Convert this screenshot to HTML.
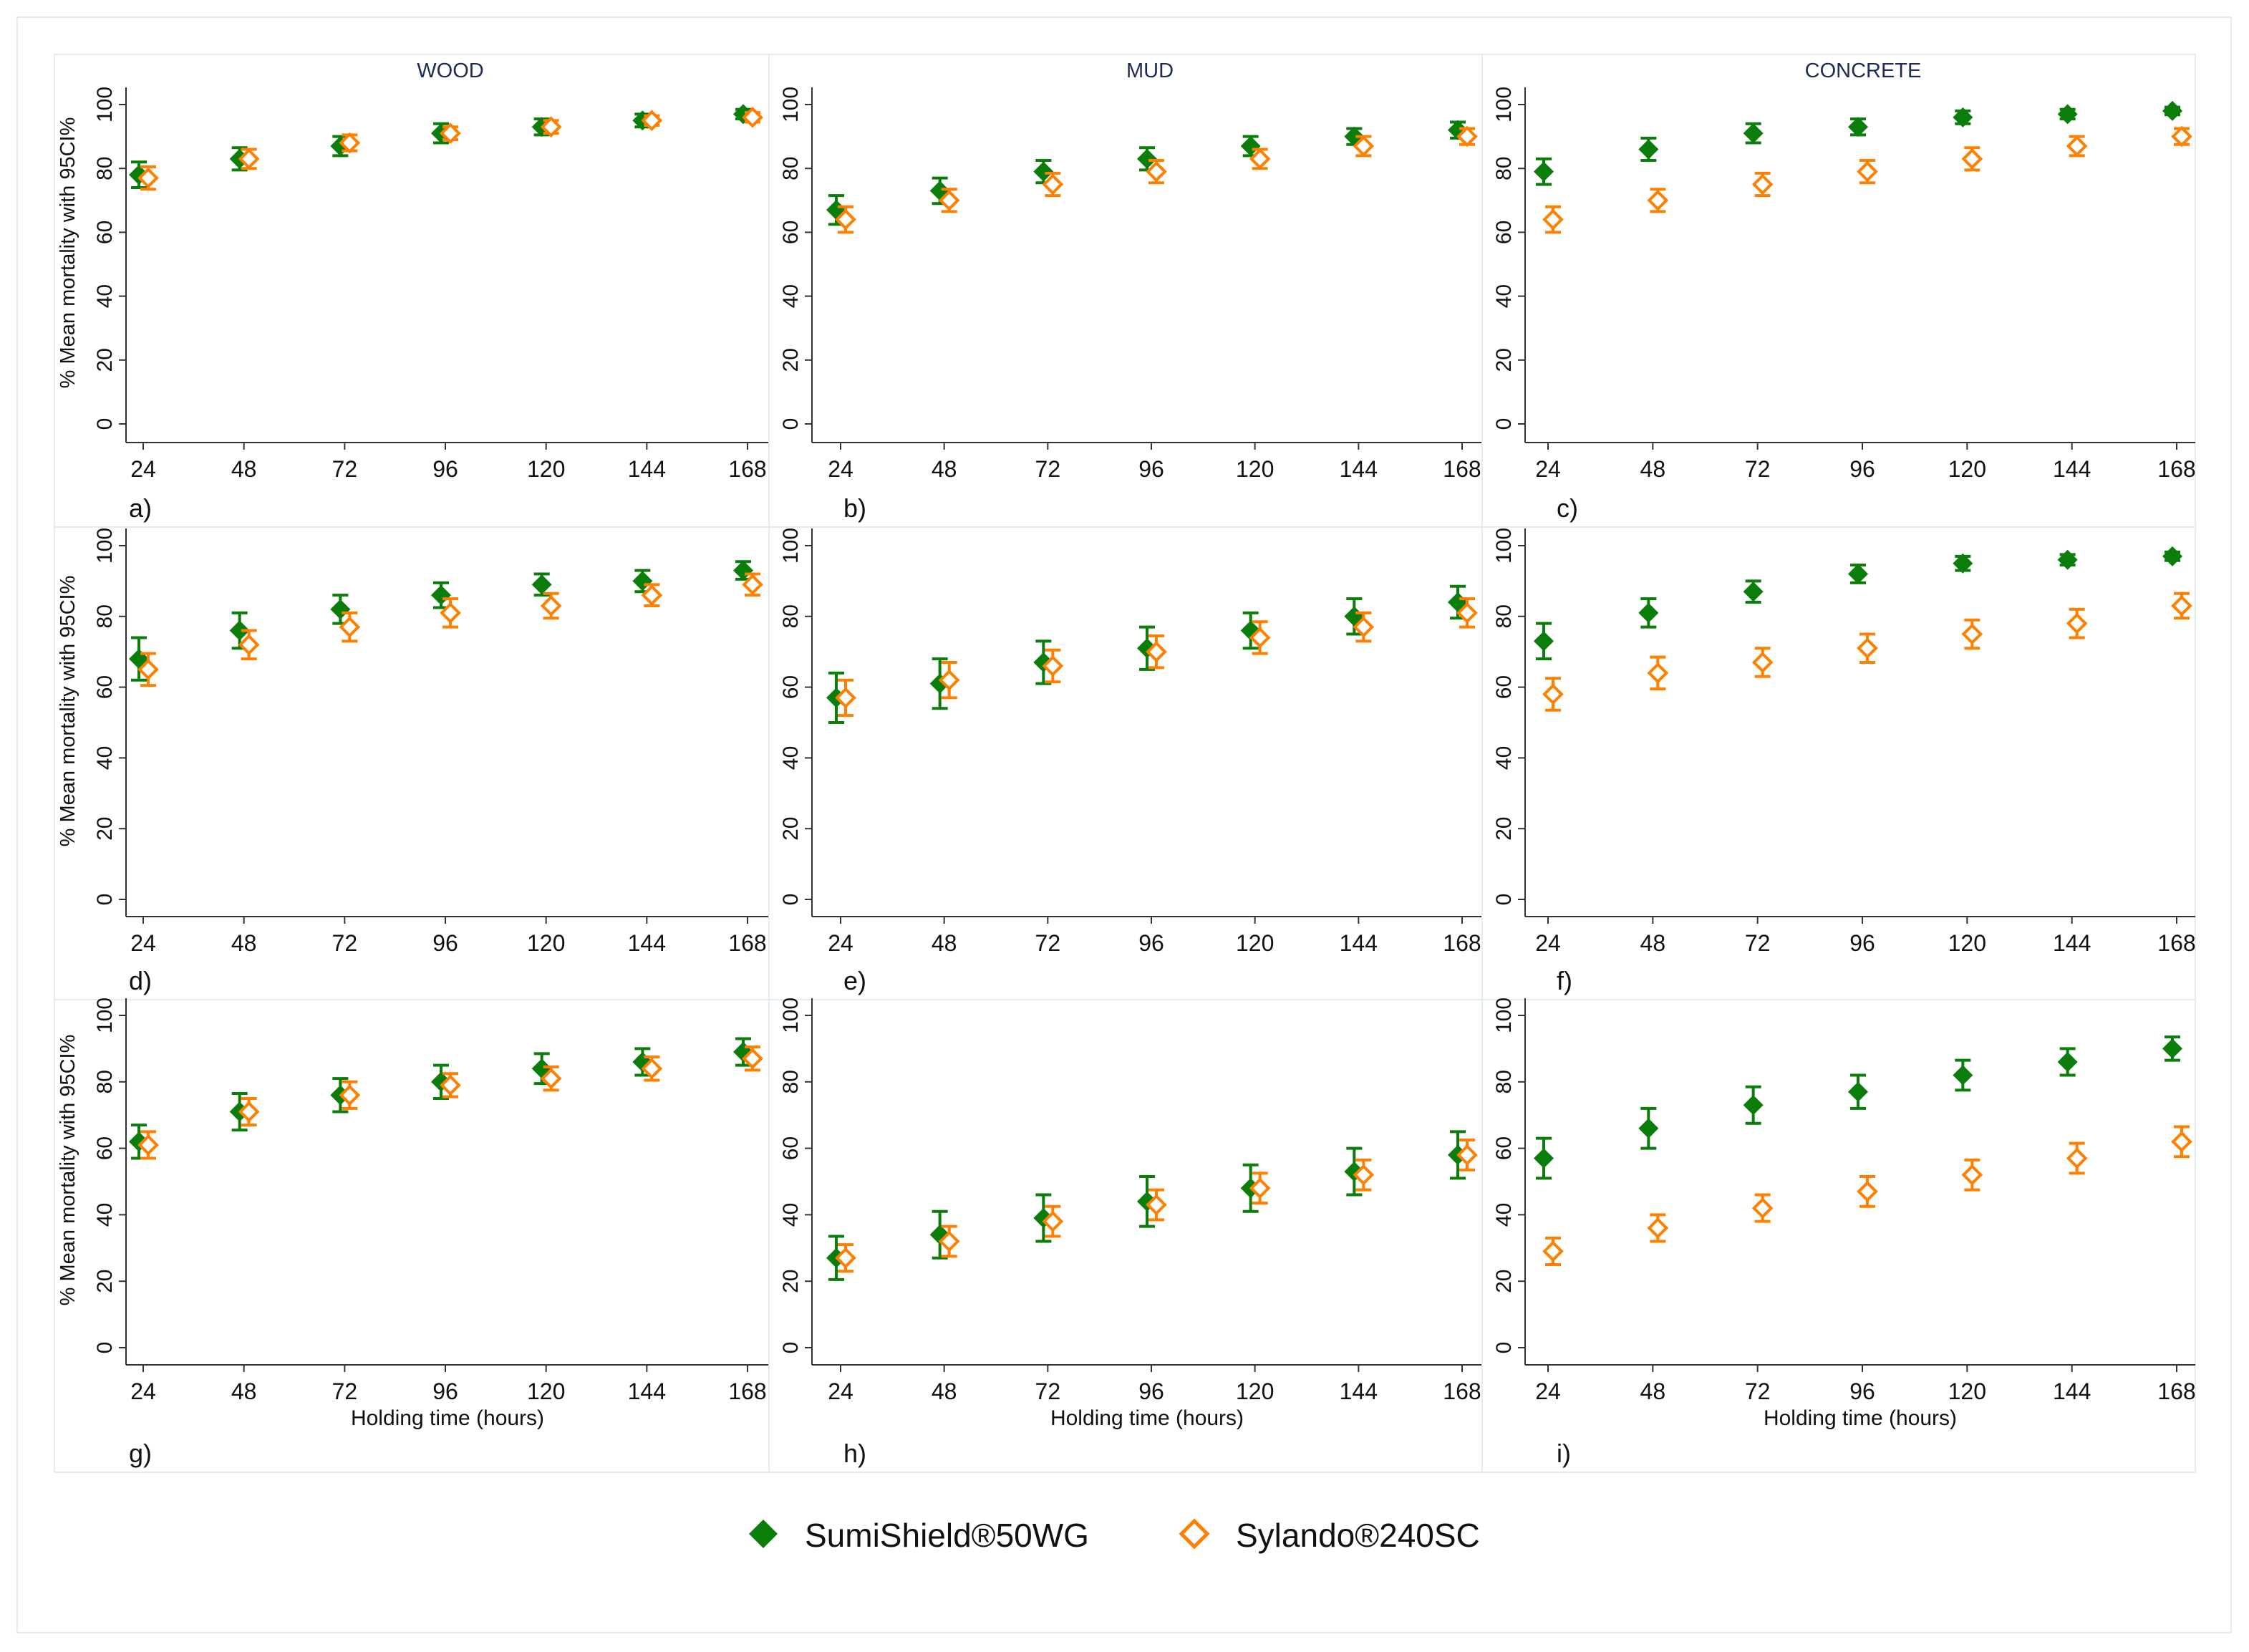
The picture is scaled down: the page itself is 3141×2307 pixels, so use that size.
<!DOCTYPE html>
<html><head><meta charset="utf-8"><style>
html,body{margin:0;padding:0;background:#fff;}
svg{display:block;font-family:"Liberation Sans",Arial,sans-serif;}
</style></head><body>
<svg id="chart" width="3141" height="2307" viewBox="0 0 1570.5 1153.5" xmlns="http://www.w3.org/2000/svg">
<rect x="12" y="12" width="1546" height="1128" fill="#fff" stroke="#e6ecee" stroke-width="1"/>
<g id="panels"></g>
<g>
<polygon points="533,1061 543,1071 533,1081 523,1071" fill="#0a7d0a"/>
<text x="562" y="1080" font-size="23" fill="#111">SumiShield®50WG</text>
<polygon points="834,1062 843,1071 834,1080 825,1071" fill="none" stroke="#ff8000" stroke-width="2.5"/>
<text x="863" y="1080" font-size="23" fill="#111">Sylando®240SC</text>
</g>
</svg>
<script>
const hours=[24,48,72,96,120,144,168];
const yTicks=[0,20,40,60,80,100];
const panelLetters=["a)","b)","c)","d)","e)","f)","g)","h)","i)"];
const colTitles=["WOOD","MUD","CONCRETE"];
// SumiShield means and CI half-widths per panel
const greenMean=[
[78,83,87,91,93,95,97],[67,73,79,83,87,90,92],[79,86,91,93,96,97,98],
[68,76,82,86,89,90,93],[57,61,67,71,76,80,84],[73,81,87,92,95,96,97],
[62,71,76,80,84,86,89],[27,34,39,44,48,53,58],[57,66,73,77,82,86,90]];
const greenCI=[
[4,3.5,3,3,2.5,2,1.5],[4.5,4,3.5,3.5,3,2.5,2.5],[4,3.5,3,2.5,2,1.5,1.2],
[6,5,4,3.5,3,3,2.5],[7,7,6,6,5,5,4.5],[5,4,3,2.5,2,1.5,1.2],
[5,5.5,5,5,4.5,4,4],[6.5,7,7,7.5,7,7,7],[6,6,5.5,5,4.5,4,3.5]];
const orangeMean=[
[77,83,88,91,93,95,96],[64,70,75,79,83,87,90],[64,70,75,79,83,87,90],
[65,72,77,81,83,86,89],[57,62,66,70,74,77,81],[58,64,67,71,75,78,83],
[61,71,76,79,81,84,87],[27,32,38,43,48,52,58],[29,36,42,47,52,57,62]];
const orangeCI=[
[3.5,3,2.5,2,2,1.5,1.5],[4,3.5,3.5,3.5,3,3,2.5],[4,3.5,3.5,3.5,3.5,3,2.5],
[4.5,4,4,4,3.5,3,3],[5,5,4.5,4.5,4.5,4,4],[4.5,4.5,4,4,4,4,3.5],
[4,4,4,3.5,3.5,3.5,3.5],[4,4.5,4.5,4.5,4.5,4.5,4.5],[4,4,4,4.5,4.5,4.5,4.5]];

const NS="http://www.w3.org/2000/svg";
const G=document.getElementById('panels');
const colX=[38,537,1035,1533];
const rowY=[38,368,698,1028];
const axisX=[88,567,1065];
const x24=[100,587,1081], x168=[522,1021,1520];
const y100=[73,381,709], y0=[296,628,941];
const axisYline=[309,640,953];
const green="#0a7d0a", orange="#ff8000";
function mk(tag,attrs,parent){const e=document.createElementNS(NS,tag);for(const k in attrs)e.setAttribute(k,attrs[k]);parent.appendChild(e);return e;}

for(let r=0;r<3;r++)for(let c=0;c<3;c++){
  const p=r*3+c;
  const g=mk('g',{},G);
  
  
  const fr=mk('rect',{x:colX[c],y:rowY[r],width:colX[c+1]-colX[c],height:rowY[r+1]-rowY[r],fill:'none',stroke:'#e3ecee','stroke-width':1},g);
  
  
  const xs=v=>x24[c]+(v-24)/(168-24)*(x168[c]-x24[c]);
  const ys=v=>y0[r]+(v/100)*(y100[r]-y0[r]);
  const ay=axisYline[r];
  const yl=mk('line',{x1:axisX[c],x2:axisX[c],y1:y100[r]-12,y2:ay,stroke:'#333','stroke-width':1},g);
  
  
  const xl=mk('line',{x1:axisX[c],x2:colX[c+1],y1:ay,y2:ay,stroke:'#333','stroke-width':1},g);
  
  
  yTicks.forEach(t=>{
    const y=ys(t);
    mk('line',{x1:axisX[c]-5,x2:axisX[c],y1:y,y2:y,stroke:'#333','stroke-width':1},g);
    const tx=mk('text',{x:0,y:0,'font-size':15,fill:'#111','text-anchor':'middle',transform:`translate(${axisX[c]-10},${y}) rotate(-90)`},g);
    tx.textContent=t;
    
    
  });
  hours.forEach(h=>{
    const x=xs(h);
    mk('line',{x1:x,x2:x,y1:ay,y2:ay+5,stroke:'#333','stroke-width':1},g);
    const tx=mk('text',{x:x,y:ay+24,'font-size':16,fill:'#111','text-anchor':'middle'},g);
    tx.textContent=h;
    
    
  });
  if(c===0){
    const yt=mk('text',{x:0,y:0,'font-size':14.5,fill:'#111','text-anchor':'middle',transform:`translate(52,${(y0[r]+y100[r])/2-8}) rotate(-90)`},g);
    yt.textContent='% Mean mortality with 95CI%';
    
    
  }
  if(r===0){
    const tt=mk('text',{x:(axisX[c]+colX[c+1])/2+2,y:54,'font-size':14.5,fill:'#1e2b55','text-anchor':'middle'},g);
    tt.textContent=colTitles[c];
    
    
  }
  if(r===2){
    const xt=mk('text',{x:(axisX[c]+colX[c+1])/2,y:ay+42,'font-size':15,fill:'#111','text-anchor':'middle'},g);
    xt.textContent='Holding time (hours)';
    
    
  }
  const lt=mk('text',{x:colX[c]+52,y:rowY[r+1]-7,'font-size':18,fill:'#111'},g);
  lt.textContent=panelLetters[p];
  
  
  const series=[[greenMean[p],greenCI[p],green,-3,true],[orangeMean[p],orangeCI[p],orange,3.5,false]];
  series.forEach(([m,ci,col,off,filled])=>{
    hours.forEach((h,i)=>{
      const x=xs(h)+off, y=ys(m[i]), yt=ys(m[i]+ci[i]), yb=ys(m[i]-ci[i]);
      const eb=mk('path',{d:`M${x},${yt}V${yb}M${x-5.5},${yt}H${x+5.5}M${x-5.5},${yb}H${x+5.5}`,stroke:col,'stroke-width':2,fill:'none'},g);
      
      
      const pt=filled?mk('polygon',{points:`${x},${y-7} ${x+7},${y} ${x},${y+7} ${x-7},${y}`,fill:col},g)
                     :mk('polygon',{points:`${x},${y-6} ${x+6},${y} ${x},${y+6} ${x-6},${y}`,fill:'#fff',stroke:col,'stroke-width':2},g);
      
      
    });
  });
}
</script>
</body></html>
